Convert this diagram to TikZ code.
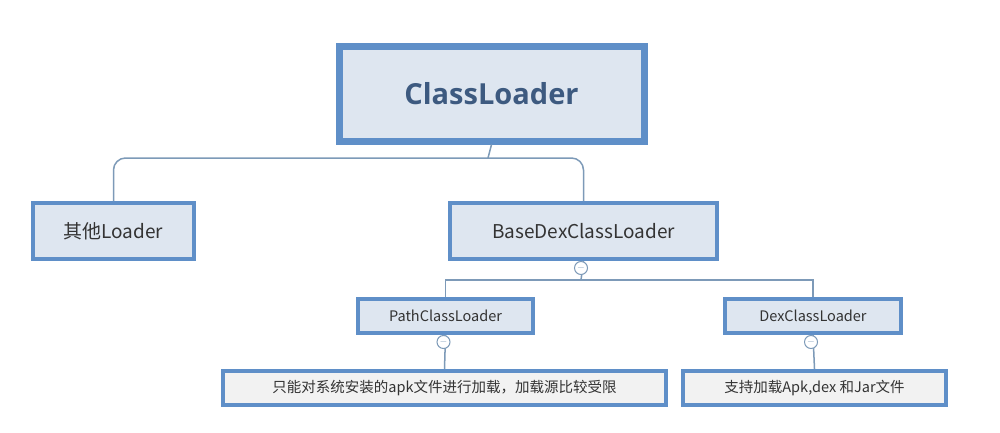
\documentclass[tikz,border=0pt]{standalone}
\usepackage{fontspec}
\setmainfont{Noto Sans CJK SC}
\newfontfamily\lat{Open Sans}
\definecolor{boxb}{HTML}{5F8FC8}
\definecolor{boxf}{HTML}{DEE6F0}
\definecolor{lineb}{HTML}{7D9AB8}
\definecolor{txt}{HTML}{333333}
\definecolor{ttl}{HTML}{3D5A80}
\definecolor{grayf}{HTML}{F2F2F2}
\begin{document}
\begin{tikzpicture}[x=1pt,y=-1pt,
 bx/.style={draw=boxb,fill=boxf,line width=4pt,inner sep=0pt,anchor=north west,text=txt},
 ln/.style={draw=lineb,line width=1.5pt,rounded corners=12pt},
 mn/.style={circle,draw=lineb,fill=white,line width=1pt,minimum size=13pt,inner sep=0pt,font=\fontsize{10}{10}\selectfont,text=lineb}]
\useasboundingbox (0,0) rectangle (1000,433);
\fill[white] (0,0) rectangle (1000,433);
\node[bx,line width=7pt,minimum width=305pt,minimum height=94pt,font=\lat\bfseries\fontsize{29}{29}\selectfont,text=ttl] (cl) at (335.5,43.5) {ClassLoader};
\node[bx,minimum width=161pt,minimum height=56pt,font=\fontsize{19}{19}\selectfont] (ot) at (31,201) {其他Loader};
\node[bx,minimum width=267pt,minimum height=56pt,font=\fontsize{19}{19}\selectfont] (bd) at (448,201) {BaseDexClassLoader};
\node[bx,minimum width=175pt,minimum height=34pt,font=\fontsize{14.5}{14.5}\selectfont] (pc) at (356,297) {PathClassLoader};
\node[bx,minimum width=176pt,minimum height=34pt,font=\fontsize{14.5}{14.5}\selectfont] (dc) at (723,297) {DexClassLoader};
\node[bx,fill=grayf,minimum width=443pt,minimum height=34pt,font=\fontsize{14.5}{14.5}\selectfont] (pd) at (221,369) {只能对系统安装的apk文件进行加载，加载源比较受限};
\node[bx,fill=grayf,minimum width=263pt,minimum height=34pt,font=\fontsize{14.5}{14.5}\selectfont] (dd) at (681,369) {支持加载Apk,dex 和Jar文件};
\coordinate (j1) at (488,158);
\draw[ln] (cl.south) -- (j1);
\draw[ln] (j1) -| (ot.north);
\draw[ln] (j1) -| (bd.north);
\coordinate (j2) at (581,280);
\draw[ln,rounded corners=0] (bd.south) -- (j2);
\draw[ln,rounded corners=0] (j2) -| (pc.north);
\draw[ln,rounded corners=0] (j2) -| (dc.north);
\draw[ln] (pc.south) -- (pd.north);
\draw[ln] (dc.south) -- (dd.north);
\node[mn] (m1) at (581,268) {$-$};
\node[mn] (m2) at (443.5,342) {$-$};
\node[mn] (m3) at (811,342) {$-$};
\end{tikzpicture}
\end{document}
